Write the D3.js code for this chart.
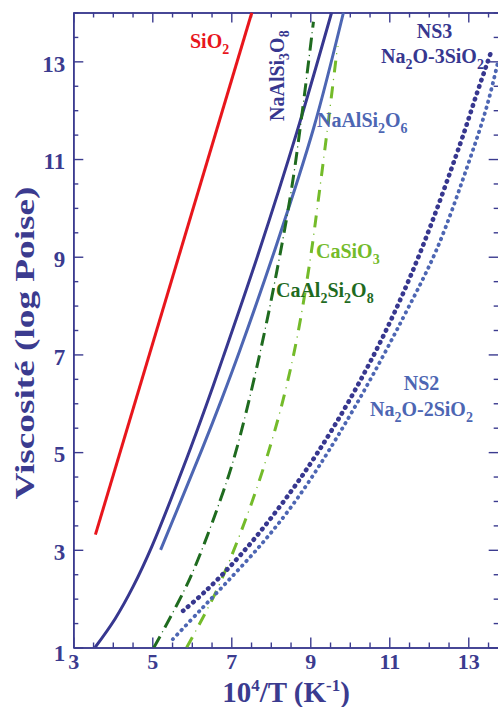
<!DOCTYPE html>
<html><head><meta charset="utf-8">
<script src="https://cdn.jsdelivr.net/npm/d3@7"></script>
<style>body{margin:0;background:#fff}svg{display:block}</style>
</head><body>
<svg id="c" width="498" height="707"></svg>
<script>
// ---------- data ----------
const xTickLabels = [3, 5, 7, 9, 11, 13];
const yTickLabels = [1, 3, 5, 7, 9, 11, 13];

const SiO2 = [[3.56, 3.31], [7.52, 14.0]];
const NaAlSi3O8 = [[3.55, 1.0], [4.06, 1.59], [4.51, 2.24], [4.99, 3.07], [5.88, 4.89], [6.38, 5.99], [6.80, 6.96], [7.68, 9.05], [8.66, 11.55], [9.54, 14.0]];
const NaAlSi2O6 = [[5.21, 3.0], [6.25, 5.04], [6.76, 6.09], [7.22, 7.09], [8.11, 9.16], [9.08, 11.62], [9.84, 14.0]];
const CaAl2Si2O8 = [[5.04, 1.0], [5.95, 2.41], [6.80, 4.20], [7.14, 5.08], [7.68, 6.86], [8.15, 8.69], [8.57, 10.62], [9.08, 13.81]];
const CaSiO3 = [[5.87, 1.0], [6.63, 2.17], [7.39, 3.68], [7.94, 5.0], [8.33, 6.13], [8.66, 7.32], [8.99, 8.9], [9.19, 10.08], [9.42, 11.53], [9.69, 13.31]];
const NS3 = [[5.78, 1.75], [6.33, 2.14], [6.97, 2.66], [7.63, 3.27], [8.49, 4.17], [9.17, 4.97], [10.01, 6.09], [10.94, 7.53], [11.78, 9.08], [12.79, 11.30], [13.22, 12.35], [13.58, 13.20]];
const NS2 = [[5.52, 1.17], [6.21, 1.76], [7.04, 2.47], [7.80, 3.15], [8.49, 3.85], [9.22, 4.71], [10.26, 6.11], [11.35, 7.75], [12.21, 9.17], [13.04, 11.0], [13.47, 12.08], [13.75, 12.98]];

const seriesNames = ["SiO2", "NaAlSi3O8", "NaAlSi2O6", "CaAl2Si2O8", "CaSiO3", "NS3", "NS2"];
const seriesData = [SiO2, NaAlSi3O8, NaAlSi2O6, CaAl2Si2O8, CaSiO3, NS3, NS2];

// ---------- styles ----------
const NAVY = "#37378f", LBLUE = "#4d66b3", RED = "#e8161c", DGREEN = "#1f6b1f", LGREEN = "#74bb2a", AXIS = "#3b3b8f";
const seriesStyle = [
  {color: RED, width: 3},
  {color: NAVY, width: 3},
  {color: LBLUE, width: 3},
  {color: DGREEN, width: 3, dash: [13, 10]},
  {color: LGREEN, width: 3, dash: [12, 14]},
  {color: NAVY, width: 4.6, dash: [0.5, 6.2], cap: "round"},
  {color: LBLUE, width: 3.8, dash: [0.5, 5.8], cap: "round"}
];

const svg = d3.select("#c");
const L = 73.3, R = 498.7, T = 12.5, B = 647.5;
const x = d3.scaleLinear().domain([3, 13.77]).range([L, R]);
const y = d3.scaleLinear().domain([1, 14]).range([B, T]);
const FONT = "'Liberation Serif','Times New Roman',Times,serif";

svg.append("defs").append("clipPath").attr("id", "clip")
  .append("rect").attr("x", L).attr("y", T).attr("width", R - L).attr("height", B - T);

// ---------- axes ----------
const xMinor = d3.range(3, 13.8, 0.5).filter(v => !xTickLabels.includes(v));
const yMinor = d3.range(1, 14.01, 0.5).filter(v => !yTickLabels.includes(v));

function styleAxis(g) {
  g.selectAll("path.domain").attr("stroke", AXIS).attr("stroke-width", 1.6);
  g.selectAll(".tick line").attr("stroke", AXIS).attr("stroke-width", 1.4);
  g.selectAll(".tick text").attr("fill", AXIS).attr("font-family", FONT)
    .attr("font-weight", "bold").attr("font-size", 23);
}

const botAx = svg.append("g").attr("transform", `translate(0,${B})`)
  .call(d3.axisBottom(x).tickValues(xTickLabels).tickSizeInner(-10).tickSizeOuter(0).tickPadding(6).tickFormat(d3.format("d")))
  .call(styleAxis);
botAx.selectAll(".tick text").attr("font-size", 22);
svg.append("g").attr("transform", `translate(0,${B})`)
  .call(d3.axisBottom(x).tickValues(xMinor).tickSizeInner(-5).tickSizeOuter(0).tickFormat(""))
  .call(styleAxis);
svg.append("g").attr("transform", `translate(0,${T})`)
  .call(d3.axisTop(x).tickValues(xTickLabels).tickSizeInner(-10).tickSizeOuter(0).tickFormat(""))
  .call(styleAxis);
svg.append("g").attr("transform", `translate(0,${T})`)
  .call(d3.axisTop(x).tickValues(xMinor).tickSizeInner(-5).tickSizeOuter(0).tickFormat(""))
  .call(styleAxis);
const leftAx = svg.append("g").attr("transform", `translate(${L},0)`)
  .call(d3.axisLeft(y).tickValues(yTickLabels).tickSizeInner(-10).tickSizeOuter(0).tickPadding(8).tickFormat(d3.format("d")))
  .call(styleAxis);
leftAx.selectAll(".tick text").attr("dy", d => d === 1 ? "0.55em" : "0.42em");
svg.append("g").attr("transform", `translate(${L},0)`)
  .call(d3.axisLeft(y).tickValues(yMinor).tickSizeInner(-5).tickSizeOuter(0).tickFormat(""))
  .call(styleAxis);
svg.append("g").attr("transform", `translate(${R},0)`)
  .call(d3.axisRight(y).tickValues(yTickLabels).tickSizeInner(-10).tickSizeOuter(0).tickFormat(""))
  .call(styleAxis);
svg.append("g").attr("transform", `translate(${R},0)`)
  .call(d3.axisRight(y).tickValues(yMinor).tickSizeInner(-5).tickSizeOuter(0).tickFormat(""))
  .call(styleAxis);

// ---------- curves ----------
const line = d3.line().x(d => x(d[0])).y(d => y(d[1])).curve(d3.curveCatmullRom.alpha(0.5));
const gLines = svg.append("g").attr("clip-path", "url(#clip)");
seriesData.forEach((data, i) => {
  const s = seriesStyle[i];
  gLines.append("path").datum(data)
    .attr("class", "series " + seriesNames[i])
    .attr("d", line).attr("fill", "none")
    .attr("stroke", s.color).attr("stroke-width", s.width)
    .attr("stroke-dasharray", s.dash ? s.dash.join(",") : null)
    .attr("stroke-linecap", s.cap || "butt");
  if (s.dash && !s.cap) {
    const period = s.dash[0] + s.dash[1];
    const dotPos = s.dash[0] + s.dash[1] / 2 - 0.6;
    gLines.append("path").datum(data)
      .attr("d", line).attr("fill", "none")
      .attr("stroke", s.color).attr("stroke-width", 1.3)
      .attr("stroke-dasharray", `1.2,${period - 1.2}`)
      .attr("stroke-dashoffset", -dotPos);
  }
});

// ---------- labels ----------
function rich(textSel, str, size) {
  const sh = size * 0.27;
  let sub = false;
  for (let i = 0; i < str.length; i++) {
    if (str[i] === "_") {
      const c = str[++i];
      textSel.append("tspan").attr("font-size", size * 0.7).attr("dy", sub ? 0 : sh).text(c);
      sub = true;
    } else {
      let run = "";
      while (i < str.length && str[i] !== "_") run += str[i++];
      i--;
      textSel.append("tspan").attr("dy", sub ? -sh : 0).text(run);
      sub = false;
    }
  }
}
const labelTexts = ["SiO_2", "NaAlSi_3O_8", "NaAlSi_2O_6", "CaSiO_3", "CaAl_2Si_2O_8", "NS3", "Na_2O-3SiO_2", "NS2", "Na_2O-2SiO_2"];
const labelPos = [
  {x: 190, y: 48, c: RED, a: "start"},
  {x: 283.5, y: 121, c: NAVY, a: "start", rot: true},
  {x: 317, y: 127, c: LBLUE, a: "start"},
  {x: 316, y: 258, c: LGREEN, a: "start"},
  {x: 276, y: 297, c: DGREEN, a: "start"},
  {x: 434.5, y: 38, c: NAVY, a: "middle"},
  {x: 432.5, y: 63, c: NAVY, a: "middle"},
  {x: 421.5, y: 390, c: LBLUE, a: "middle"},
  {x: 421.5, y: 416, c: LBLUE, a: "middle"}
];
labelTexts.forEach((t, i) => {
  const p = labelPos[i];
  const tx = svg.append("text")
    .attr("transform", p.rot ? `translate(${p.x},${p.y}) rotate(-90)` : `translate(${p.x},${p.y}) scale(1,1.08)`)
    .attr("text-anchor", p.a).attr("fill", p.c)
    .attr("font-family", FONT).attr("font-weight", "bold").attr("font-size", 20);
  rich(tx, t, 20);
});

// axis titles
const xt = svg.append("text").attr("x", 286).attr("y", 702).attr("text-anchor", "middle")
  .attr("fill", AXIS).attr("font-family", FONT).attr("font-weight", "bold").attr("font-size", 29);
xt.append("tspan").text("10");
xt.append("tspan").attr("font-size", 17).attr("dy", -11).text("4");
xt.append("tspan").attr("dy", 11).text("/T (K");
xt.append("tspan").attr("font-size", 17).attr("dy", -11).text("-1");
xt.append("tspan").attr("dy", 11).text(")");

svg.append("text").attr("transform", "translate(34,343) rotate(-90)").attr("text-anchor", "middle")
  .attr("fill", AXIS).attr("font-family", FONT).attr("font-weight", "bold").attr("font-size", 28)
  .attr("textLength", 313).attr("lengthAdjust", "spacingAndGlyphs")
  .text("Viscosité (log Poise)");
</script>
</body></html>
